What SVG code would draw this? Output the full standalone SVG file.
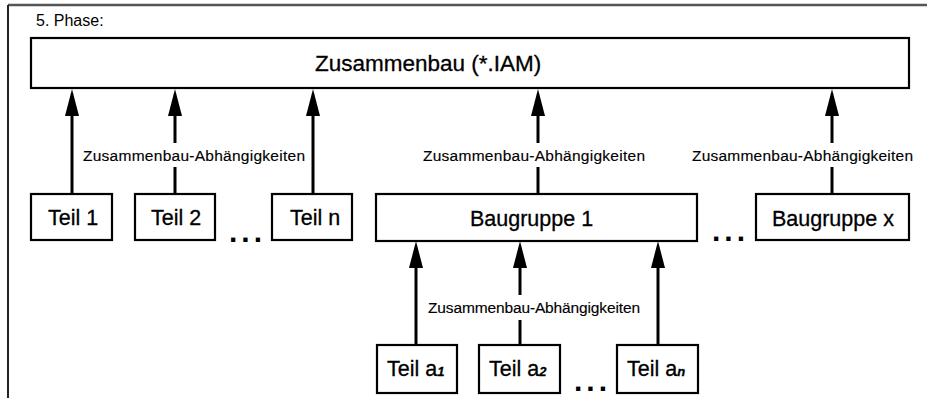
<svg xmlns="http://www.w3.org/2000/svg" width="927" height="398" viewBox="0 0 927 398">
<style>
  .box { fill: #fff; stroke: #000; stroke-width: 2.2; }
  .t { font-family: "Liberation Sans", Arial, sans-serif; fill: #000; }
  .big { font-size: 22.5px; stroke: #000; stroke-width: 0.3px; }
  .mid { font-size: 21.5px; stroke: #000; stroke-width: 0.3px; }
  .lbl { font-size: 15.5px; stroke: #000; stroke-width: 0.15px; }
  .sub { font-size: 13px; font-style: italic; font-weight: bold; }
  .dots { font-family: "Liberation Sans", Arial, sans-serif; font-size: 30px; font-weight: bold; letter-spacing: 4px; fill: #000; }
  .ln { stroke: #000; stroke-width: 3; fill: none; }
  .arr { stroke: #000; stroke-width: 3; fill: none; marker-end: url(#head); }
</style>
<defs>
  <marker id="head" markerUnits="userSpaceOnUse" viewBox="0 0 27 14" refX="0" refY="7" markerWidth="27" markerHeight="14" orient="auto">
    <path d="M0,0 L27,7 L0,14 z" fill="#000"/>
  </marker>
</defs>
<rect width="927" height="398" fill="#fff"/>
<g id="frame">
  <line x1="8" y1="5" x2="927" y2="5" stroke="#555" stroke-width="2.5"/>
  <line x1="8" y1="5" x2="8" y2="398" stroke="#222" stroke-width="2"/>
  <text class="t" x="36" y="26" font-size="16">5. Phase:</text>
</g>
<g id="connectors">
  <line class="arr" x1="72" y1="194" x2="72" y2="116"/>
  <line class="ln" x1="175" y1="194" x2="175" y2="167"/>
  <line class="arr" x1="175" y1="143" x2="175" y2="116"/>
  <line class="arr" x1="313" y1="194" x2="313" y2="116"/>
  <line class="ln" x1="538" y1="194" x2="538" y2="167"/>
  <line class="arr" x1="538" y1="143" x2="538" y2="116"/>
  <line class="ln" x1="832" y1="194" x2="832" y2="167"/>
  <line class="arr" x1="832" y1="143" x2="832" y2="116"/>
  <line class="arr" x1="416" y1="345" x2="416" y2="268"/>
  <line class="ln" x1="520" y1="345" x2="520" y2="320"/>
  <line class="arr" x1="520" y1="295" x2="520" y2="268"/>
  <line class="arr" x1="658" y1="345" x2="658" y2="268"/>
  <text class="t lbl" x="83" y="161" textLength="222" lengthAdjust="spacing">Zusammenbau-Abhängigkeiten</text>
  <text class="t lbl" x="423" y="161" textLength="222" lengthAdjust="spacing">Zusammenbau-Abhängigkeiten</text>
  <text class="t lbl" x="692" y="161" textLength="221" lengthAdjust="spacing">Zusammenbau-Abhängigkeiten</text>
  <text class="t lbl" x="428" y="313" textLength="212" lengthAdjust="spacing">Zusammenbau-Abhängigkeiten</text>
</g>
<g id="zusammenbau">
  <rect class="box" x="31" y="38" width="878" height="50"/>
  <text class="t big" x="315" y="71">Zusammenbau (*.IAM)</text>
</g>
<g id="teil1">
  <rect class="box" x="31" y="194" width="81" height="46"/>
  <text class="t mid" x="48" y="225">Teil 1</text>
</g>
<g id="teil2">
  <rect class="box" x="135" y="194" width="80" height="46"/>
  <text class="t mid" x="151" y="225">Teil 2</text>
</g>
<g id="dots1"><text class="dots" x="229" y="242">...</text></g>
<g id="teiln">
  <rect class="box" x="272" y="194" width="80" height="46"/>
  <text class="t mid" x="290" y="225">Teil n</text>
</g>
<g id="baugruppe1">
  <rect class="box" x="376" y="194" width="321" height="47"/>
  <text class="t mid" x="470" y="226">Baugruppe 1</text>
</g>
<g id="dots2"><text class="dots" x="712" y="241">...</text></g>
<g id="baugruppex">
  <rect class="box" x="756" y="194" width="153" height="46"/>
  <text class="t mid" x="772" y="226">Baugruppe x</text>
</g>
<g id="teila1">
  <rect class="box" x="377" y="345" width="80" height="48"/>
  <text class="t mid" x="387" y="376">Teil a<tspan class="sub">1</tspan></text>
</g>
<g id="teila2">
  <rect class="box" x="479" y="345" width="81" height="48"/>
  <text class="t mid" x="489" y="376">Teil a<tspan class="sub">2</tspan></text>
</g>
<g id="dots3"><text class="dots" x="574" y="391" font-size="26" letter-spacing="6">...</text></g>
<g id="teilan">
  <rect class="box" x="617" y="345" width="81" height="48"/>
  <text class="t mid" x="627" y="376">Teil a<tspan class="sub">n</tspan></text>
</g>
</svg>
